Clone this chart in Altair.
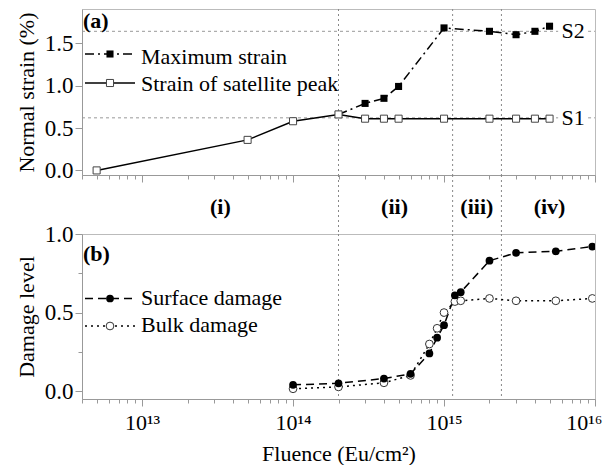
import altair as alt
import pandas as pd

# ---------------- data ----------------
strain_fluence = [5e12, 5e13, 1e14, 2e14, 3e14, 4e14, 5e14, 1e15, 2e15, 3e15, 4e15, 5e15]
satellite_strain = [0.00, 0.36, 0.58, 0.66, 0.61, 0.61, 0.61, 0.61, 0.61, 0.61, 0.61, 0.61]

max_fluence = [2e14, 3e14, 4e14, 5e14, 1e15, 2e15, 3e15, 4e15, 5e15]
max_strain = [0.66, 0.79, 0.85, 0.99, 1.68, 1.64, 1.60, 1.64, 1.70]

s_levels = [1.64, 0.62]
s_labels = ["S2", "S1"]

damage_fluence = [1e14, 2e14, 4e14, 6e14, 8e14, 9e14, 1e15, 1.18e15, 1.29e15, 2e15, 3e15, 5.5e15, 9.6e15]
surface_damage = [0.04, 0.05, 0.08, 0.11, 0.24, 0.34, 0.42, 0.61, 0.63, 0.83, 0.88, 0.89, 0.92]
bulk_damage = [0.015, 0.027, 0.053, 0.10, 0.30, 0.40, 0.50, 0.57, 0.575, 0.59, 0.575, 0.575, 0.59]

region_bounds = [2e14, 1.14e15, 2.4e15]
region_labels = ["(i)", "(ii)", "(iii)", "(iv)"]
region_label_x = [3.3e13, 4.7e14, 1.65e15, 5.0e15]

# ---------------- styling ----------------
FONT = "Liberation Serif"
FS = 22
W = 513
XDOM = [4e12, 1e16]
xs = alt.Scale(type="log", domain=XDOM, nice=False)
ys_top = alt.Scale(domain=[-0.054, 1.903], nice=False, zero=False)
ys_bot = alt.Scale(domain=[-0.05, 1.0], nice=False, zero=False)

x_ticks = [k * 10.0 ** n for n in range(12, 16) for k in range(1, 10) if XDOM[0] <= k * 10.0 ** n <= XDOM[1]] + [1e16]
MAJOR_X = "abs(log(datum.value)/LN10 - round(log(datum.value)/LN10)) < 1e-6"
x_tick_size = {"condition": {"test": MAJOR_X, "value": 7}, "value": 4}
y_tick_size = {"condition": {"test": "abs(datum.value % 0.5) < 1e-9", "value": 7}, "value": 4}

x_label_expr = ("datum.value == 1e13 ? '10\u00b9\u00b3' : datum.value == 1e14 ? '10\u00b9\u2074' : "
                "datum.value == 1e15 ? '10\u00b9\u2075' : datum.value == 1e16 ? '10\u00b9\u2076' : ''")
y_label_expr = "abs(datum.value % 0.5) < 1e-9 ? format(datum.value, '.1f') : ''"

top_x_axis = alt.Axis(values=x_ticks, labels=False, title=None, tickSize=x_tick_size, labelFlush=False)
bot_x_axis = alt.Axis(values=x_ticks, labelExpr=x_label_expr, title="Fluence (Eu/cm\u00b2)",
                      tickSize=x_tick_size, labelFlush=True, labelFlushOffset=7, labelOverlap=False,
                      labelPadding=6, titlePadding=10)
top_y_axis = alt.Axis(values=[0, 0.25, 0.5, 0.75, 1.0, 1.25, 1.5, 1.75], labelExpr=y_label_expr,
                      title="Normal strain (%)", tickSize=y_tick_size, labelPadding=2, titlePadding=6,
                      labelOverlap=False, labelFontSize=23)
bot_y_axis = alt.Axis(values=[0, 0.25, 0.5, 0.75, 1.0], labelExpr=y_label_expr,
                      title="Damage level", tickSize=y_tick_size, labelPadding=2, titlePadding=6,
                      labelOverlap=False, labelFontSize=23)

one = pd.DataFrame({"k": [0]})

# ---------------- top panel ----------------
df_sat = pd.DataFrame({"x": strain_fluence, "y": satellite_strain})
df_max = pd.DataFrame({"x": max_fluence, "y": max_strain})
df_vb = pd.DataFrame({"x": region_bounds})
seg_rows = []
for lv in s_levels:
    seg_rows.append({"x": XDOM[0], "x2": 5.7e15, "y": lv})
    seg_rows.append({"x": 9.0e15, "x2": XDOM[1], "y": lv})
df_seg = pd.DataFrame(seg_rows)
df_slab = pd.DataFrame({"x": [6.0e15] * len(s_levels), "y": s_levels, "label": s_labels})

vrule = alt.Chart(df_vb).mark_rule(color="#888", strokeDash=[2, 3], strokeWidth=1).encode(
    x=alt.X("x:Q", scale=xs))

hseg = alt.Chart(df_seg).mark_rule(color="#999", strokeDash=[3, 3], strokeWidth=1).encode(
    x=alt.X("x:Q", scale=xs), x2="x2:Q", y=alt.Y("y:Q", scale=ys_top))

sat_line = alt.Chart(df_sat).mark_line(color="black", strokeWidth=1.5).encode(
    x=alt.X("x:Q", scale=xs, axis=top_x_axis), y=alt.Y("y:Q", scale=ys_top, axis=top_y_axis))
max_line = alt.Chart(df_max).mark_line(color="black", strokeWidth=1.5, strokeDash=[9, 4, 2, 4]).encode(
    x=alt.X("x:Q", scale=xs), y=alt.Y("y:Q", scale=ys_top))
max_pts = alt.Chart(df_max).mark_square(color="black", size=50, opacity=1).encode(
    x=alt.X("x:Q", scale=xs), y=alt.Y("y:Q", scale=ys_top))
sat_pts = alt.Chart(df_sat).mark_square(fill="white", stroke="#444", strokeWidth=1, size=50, opacity=1).encode(
    x=alt.X("x:Q", scale=xs), y=alt.Y("y:Q", scale=ys_top))
s_text = alt.Chart(df_slab).mark_text(align="left", baseline="middle", font=FONT, fontSize=FS, color="black").encode(
    x=alt.X("x:Q", scale=xs), y=alt.Y("y:Q", scale=ys_top), text="label:N")

a_text = alt.Chart(one).mark_text(text="(a)", align="left", baseline="middle", font=FONT, fontSize=FS,
                                  fontWeight="bold", color="black").encode(x=alt.value(1), y=alt.value(12))
leg1_line = alt.Chart(one).mark_rule(color="black", strokeWidth=1.5, strokeDash=[9, 4, 2, 4]).encode(
    x=alt.value(3), x2=alt.value(53), y=alt.value(45))
leg1_pt = alt.Chart(one).mark_square(color="black", size=50, opacity=1).encode(x=alt.value(28), y=alt.value(45))
leg1_txt = alt.Chart(one).mark_text(text="Maximum strain", align="left", baseline="alphabetic", font=FONT,
                                    fontSize=FS, color="black").encode(x=alt.value(59), y=alt.value(54.5))
leg2_line = alt.Chart(one).mark_rule(color="black", strokeWidth=1.5).encode(
    x=alt.value(3), x2=alt.value(53), y=alt.value(74))
leg2_pt = alt.Chart(one).mark_square(fill="white", stroke="#444", strokeWidth=1, size=50, opacity=1).encode(
    x=alt.value(28), y=alt.value(74))
leg2_txt = alt.Chart(one).mark_text(text="Strain of satellite peak", align="left", baseline="alphabetic",
                                    font=FONT, fontSize=FS, color="black").encode(x=alt.value(59), y=alt.value(81.5))

top = alt.layer(vrule, hseg, sat_line, max_line, max_pts, sat_pts, s_text, a_text,
                leg1_line, leg1_pt, leg1_txt, leg2_line, leg2_pt, leg2_txt).properties(width=W, height=166)

# ---------------- middle strip ----------------
df_reg = pd.DataFrame({"x": region_label_x, "label": region_labels})
mid_rule = alt.Chart(df_vb).mark_rule(color="#888", strokeDash=[2, 3], strokeWidth=1).encode(
    x=alt.X("x:Q", scale=xs, axis=None))
mid_text = alt.Chart(df_reg).mark_text(baseline="middle", align="center", font=FONT, fontSize=FS,
                                       fontWeight="bold", color="black").encode(
    x=alt.X("x:Q", scale=xs, axis=None), y=alt.value(32), text="label:N")
mid = alt.layer(mid_rule, mid_text).properties(width=W, height=59,
                                               view=alt.ViewBackground(stroke="transparent"))

# ---------------- bottom panel ----------------
df_surf = pd.DataFrame({"x": damage_fluence, "y": surface_damage})
df_bulk = pd.DataFrame({"x": damage_fluence, "y": bulk_damage})

b_vrule = alt.Chart(df_vb).mark_rule(color="#888", strokeDash=[2, 3], strokeWidth=1).encode(
    x=alt.X("x:Q", scale=xs))
surf_line = alt.Chart(df_surf).mark_line(color="black", strokeWidth=1.5, strokeDash=[8, 5]).encode(
    x=alt.X("x:Q", scale=xs, axis=bot_x_axis), y=alt.Y("y:Q", scale=ys_bot, axis=bot_y_axis))
bulk_line = alt.Chart(df_bulk).mark_line(color="black", strokeWidth=1.5, strokeDash=[2, 4]).encode(
    x=alt.X("x:Q", scale=xs), y=alt.Y("y:Q", scale=ys_bot))
bulk_pts = alt.Chart(df_bulk).mark_circle(fill="white", stroke="#333", strokeWidth=1, size=60, opacity=1,
                                          clip=True).encode(
    x=alt.X("x:Q", scale=xs), y=alt.Y("y:Q", scale=ys_bot))
surf_pts = alt.Chart(df_surf).mark_circle(color="black", size=60, opacity=1, clip=True).encode(
    x=alt.X("x:Q", scale=xs), y=alt.Y("y:Q", scale=ys_bot))

b_text = alt.Chart(one).mark_text(text="(b)", align="left", baseline="middle", font=FONT, fontSize=FS,
                                  fontWeight="bold", color="black").encode(x=alt.value(1), y=alt.value(20))
bl1_line = alt.Chart(one).mark_rule(color="black", strokeWidth=1.5, strokeDash=[8, 5]).encode(
    x=alt.value(3), x2=alt.value(53), y=alt.value(64.5))
bl1_pt = alt.Chart(one).mark_circle(color="black", size=60, opacity=1).encode(x=alt.value(28), y=alt.value(64.5))
bl1_txt = alt.Chart(one).mark_text(text="Surface damage", align="left", baseline="alphabetic", font=FONT,
                                   fontSize=FS, color="black").encode(x=alt.value(59), y=alt.value(70.5))
bl2_line = alt.Chart(one).mark_rule(color="black", strokeWidth=1.5, strokeDash=[2, 4]).encode(
    x=alt.value(3), x2=alt.value(53), y=alt.value(92))
bl2_pt = alt.Chart(one).mark_circle(fill="white", stroke="#333", strokeWidth=1, size=60, opacity=1).encode(
    x=alt.value(28), y=alt.value(92))
bl2_txt = alt.Chart(one).mark_text(text="Bulk damage", align="left", baseline="alphabetic", font=FONT,
                                   fontSize=FS, color="black").encode(x=alt.value(59), y=alt.value(98))

bottom = alt.layer(b_vrule, surf_line, bulk_line, bulk_pts, surf_pts, b_text,
                   bl1_line, bl1_pt, bl1_txt, bl2_line, bl2_pt, bl2_txt).properties(width=W, height=165)

chart = alt.vconcat(top, mid, bottom, spacing=0, bounds="flush").properties(
    padding={"left": 6, "top": 0, "right": 0, "bottom": 0}
).configure_view(
    stroke="#bbb", strokeWidth=1
).configure_axis(
    domainColor="#999", tickColor="#999", domainWidth=1, tickWidth=1, grid=False,
    labelFont=FONT, titleFont=FONT, labelFontSize=FS, titleFontSize=FS, titleFontWeight="normal",
    labelColor="black", titleColor="black"
)

chart.save("out.html", embed_options={"renderer": "svg", "actions": False})
